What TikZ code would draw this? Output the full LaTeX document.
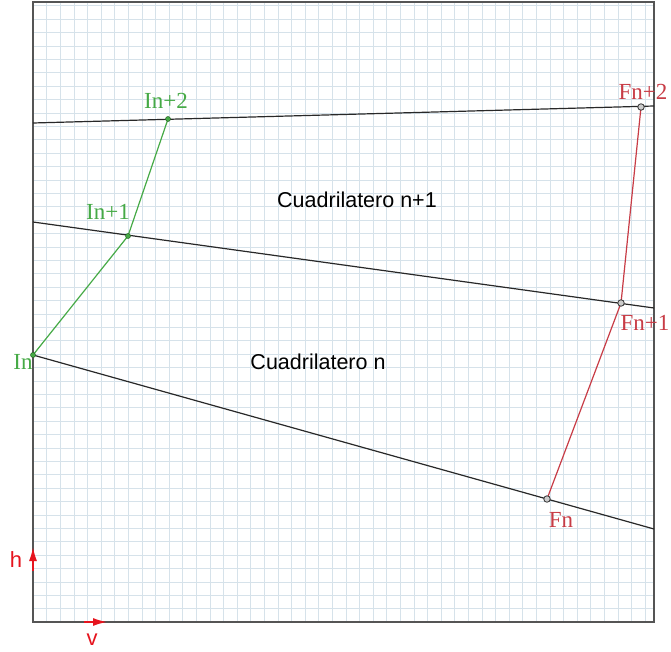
\documentclass[tikz,border=0pt]{standalone}
\usepackage{fontspec}
\setmainfont{Liberation Serif}
\newfontfamily\arialf{Liberation Sans}
\usetikzlibrary{arrows.meta}
\definecolor{gridc}{RGB}{214,226,234}
\definecolor{framec}{RGB}{85,85,85}
\definecolor{linec}{RGB}{40,40,40}
\definecolor{grn}{RGB}{70,170,70}
\definecolor{rd}{RGB}{200,60,70}
\definecolor{axc}{RGB}{230,20,30}
\tikzset{
  gridline/.style={draw=gridc, line width=0.5pt},
  sepline/.style={draw=linec, line width=1.2pt},
  gline/.style={draw=grn, line width=1.2pt},
  rline/.style={draw=rd, line width=1.2pt},
  gpt/.style={circle, fill=grn, draw=grn!60!black, line width=0.5pt, inner sep=0pt, minimum size=5pt},
  rpt/.style={circle, fill=gray!40, draw=black!80, line width=0.8pt, inner sep=0pt, minimum size=6.5pt},
  glabel/.style={text=grn, font=\fontsize{23}{26}\selectfont, inner sep=0pt},
  rlabel/.style={text=rd, font=\fontsize{23}{26}\selectfont, inner sep=0pt},
  quadtext/.style={font=\arialf\fontsize{21.5}{24}\selectfont, inner sep=0pt},
  axtext/.style={text=axc, font=\arialf\fontsize{22}{25}\selectfont, inner sep=0pt},
  axarrow/.style={draw=axc, line width=1.6pt, -{Latex[length=14pt,width=8pt]}}
}
\begin{document}
\begin{tikzpicture}[x=1pt,y=-1pt]
\useasboundingbox (0,0) rectangle (671,652);
\fill[white] (0,0) rectangle (671,652);
% grid
\foreach \i in {1,...,45} \draw[gridline] ({33+13.6*\i},2) -- ({33+13.6*\i},622);
\foreach \j in {1,...,46} \draw[gridline] (33,{622-13.4*\j}) -- (654,{622-13.4*\j});
% frame
\draw[draw=framec, line width=1.6pt] (33,2) rectangle (654,622);
% boundary coordinates
\coordinate (TL) at (33,123);
\coordinate (TR) at (654,106);
\coordinate (ML) at (33,222);
\coordinate (MR) at (654,308);
\coordinate (BR) at (654,529);
% points
\coordinate (In) at (33,355);
\coordinate (In1) at (128,236);
\coordinate (In2) at (168,119);
\coordinate (Fn) at (547,499);
\coordinate (Fn1) at (621,303);
\coordinate (Fn2) at (641,107);
% separating lines
\draw[sepline] (TL) -- (TR);
\draw[sepline] (ML) -- (MR);
\draw[sepline] (In) -- (BR);
% polylines
\draw[gline] (In) -- (In1) -- (In2);
\draw[rline] (Fn) -- (Fn1) -- (Fn2);
% markers
\node[gpt] (pIn) at (In) {};
\node[gpt] (pIn1) at (In1) {};
\node[gpt] (pIn2) at (In2) {};
\node[rpt] (pFn) at (Fn) {};
\node[rpt] (pFn1) at (Fn1) {};
\node[rpt] (pFn2) at (Fn2) {};
% labels
\node[glabel] (lIn) at (23,362) {In};
\node[glabel] (lIn1) at (108,212) {In+1};
\node[glabel] (lIn2) at (166,101) {In+2};
\node[rlabel] (lFn) at (561,520) {Fn};
\node[rlabel] (lFn1) at (645,323) {Fn+1};
\node[rlabel] (lFn2) at (643,92) {Fn+2};
\node[quadtext] (q1) at (357,200) {Cuadrilatero n+1};
\node[quadtext] (q0) at (318,362) {Cuadrilatero n};
% axes
\coordinate (h0) at (33,571);
\coordinate (h1) at (33,547);
\coordinate (v0) at (84,622);
\coordinate (v1) at (107,622);
\draw[axarrow] (h0) -- (h1);
\draw[axarrow] (v0) -- (v1);
\node[axtext] (lh) at (16,560) {h};
\node[axtext] (lv) at (92,640) {v};
\end{tikzpicture}
\end{document}
